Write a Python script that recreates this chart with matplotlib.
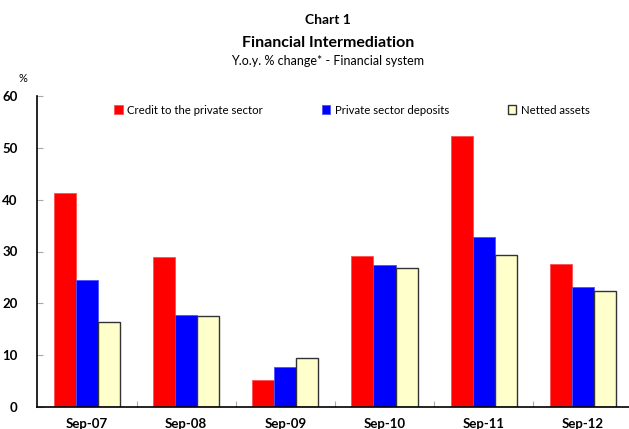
import matplotlib
matplotlib.use("Agg")
import matplotlib.pyplot as plt
import numpy as np

categories = ["Sep-07", "Sep-08", "Sep-09", "Sep-10", "Sep-11", "Sep-12"]
credit = [41.2, 28.9, 5.3, 29.2, 52.3, 27.6]
deposits = [24.5, 17.7, 7.8, 27.4, 32.8, 23.2]
netted = [16.4, 17.6, 9.4, 26.8, 29.3, 22.3]
series_names = ["Credit to the private sector", "Private sector deposits", "Netted assets"]
yticks = [0, 10, 20, 30, 40, 50, 60]

plt.rcParams['font.family'] = ['Lato', 'DejaVu Sans']

W, H = 629, 429
fig = plt.figure(figsize=(W/100, H/100), dpi=100)
x0, x1 = 37.3, 632.5
y0, y1 = 407.3, 95.7
ax = fig.add_axes([x0/W, 1 - y0/H, (x1-x0)/W, (y0-y1)/H])

x = np.arange(len(categories))
bw = 0.223
b1 = ax.bar(x - bw, credit, bw, color="#ff0000", edgecolor="#ff5050", linewidth=0.6, label=series_names[0])
b2 = ax.bar(x, deposits, bw, color="#0000ff", edgecolor="#5050ff", linewidth=0.6, label=series_names[1])
b3 = ax.bar(x + bw, netted, bw, color="#ffffcc", edgecolor="#333333", linewidth=1.0, label=series_names[2])

ax.set_xlim(-0.5, 5.5)
ax.set_ylim(0, 60)
ax.set_yticks(yticks)
ax.set_yticklabels([str(v) for v in yticks], fontsize=9.5, fontweight='bold')
ax.set_xticks(x)
ax.set_xticklabels(categories, fontsize=9.5, fontweight='bold')
ax.tick_params(axis='x', length=0, pad=8)
ax.set_xticks(np.arange(0.5, 5.5, 1), minor=True)
ax.tick_params(axis='x', which='minor', direction='in', length=4, color='#aaaaaa', width=0.8)
ax.tick_params(axis='y', direction='in', length=4, color='#aaaaaa', width=0.8, pad=14)
for s in ['top', 'right']:
    ax.spines[s].set_visible(False)
ax.spines['left'].set_linewidth(1.2)
ax.spines['bottom'].set_linewidth(1.2)
for lbl in ax.get_yticklabels():
    lbl.set_horizontalalignment('right')

leg = ax.legend(ncol=3, loc='upper left', bbox_to_anchor=((114-x0)/(x1-x0), 1 - (104.5-y1)/(y0-y1)),
                frameon=False, fontsize=8.2, handlelength=0.75, handleheight=0.75,
                handletextpad=0.4, columnspacing=5.15, borderaxespad=0, borderpad=0)

fig.text(328/W, 1 - 20/H, "Chart 1", ha='center', va='center', fontsize=10, fontweight='bold')
fig.text(328/W, 1 - 43/H, "Financial Intermediation", ha='center', va='center', fontsize=11.5, fontweight='bold')
fig.text(328/W, 1 - 61/H, "Y.o.y. % change* - Financial system", ha='center', va='center', fontsize=9)
fig.text(23/W, 1 - 78/H, "%", ha='center', va='center', fontsize=8)

fig.savefig("out.png", dpi=100)
